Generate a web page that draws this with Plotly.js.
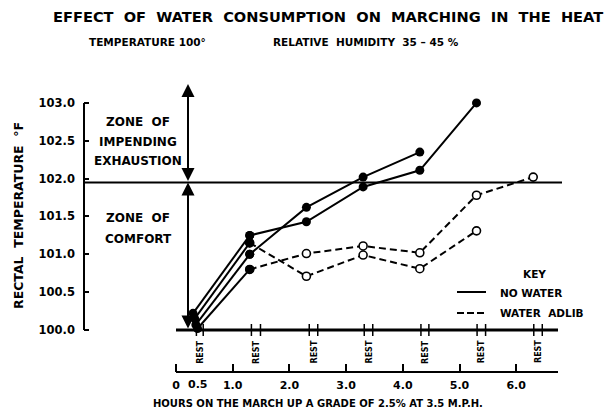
<!DOCTYPE html>
<html><head><meta charset="utf-8">
<script src="https://cdn.plot.ly/plotly-3.0.1.min.js"></script>
<style>html,body{margin:0;padding:0;background:#fff}#chart{width:607px;height:415px}</style>
</head><body><div id="chart"></div>
<script>
// ---- data (hours on march, rectal temperature °F) ----
const noWater1Hours = [0.35, 1.3, 2.3, 3.3, 4.3];
const noWater1Temp  = [100.07, 101.00, 101.62, 102.02, 102.35];
const noWater2Hours = [0.30, 1.3, 2.3, 3.3, 4.3, 5.3];
const noWater2Temp  = [100.22, 101.25, 101.43, 101.89, 102.11, 103.00];
const water1Hours = [0.33, 1.3, 2.3, 3.3, 4.3, 5.3];
const water1Temp  = [100.15, 101.15, 100.71, 100.99, 100.81, 101.31];
const water2Hours = [0.38, 1.3, 2.3, 3.3, 4.3, 5.3, 6.3];
const water2Temp  = [100.02, 100.80, 101.01, 101.11, 101.02, 101.78, 102.02];
const restStart = [0.36, 1.33, 2.35, 3.32, 4.32, 5.31, 6.31];
const restEnd   = [0.48, 1.49, 2.50, 3.47, 4.46, 5.46, 6.46];
const yTicks = [100.0, 100.5, 101.0, 101.5, 102.0, 102.5, 103.0];
const xTicks = [0, 1, 2, 3, 4, 5, 6];
const xTickText = ['0', '1.0', '2.0', '3.0', '4.0', '5.0', '6.0'];
const exhaustionLimit = 101.95;

// ---- layout helpers ----
const W = 607, H = 415, ML = 84, MR = 17, MT = 80, MB = 43;
const PXH = 56.7, X0 = 176;      // px per hour, px of hour 0
const PXD = 75.7, Y0 = 330;      // px per degree, px of 100.0
const hx = px => (px - X0) / PXH;
const vy = py => 100 + (Y0 - py) / PXD;
const pxX = px => (px - ML) / (W - ML - MR);
const pxY = py => (H - MB - py) / (H - MT - MB);
const F = 'DejaVu Sans, Arial, sans-serif';
const font = (s) => ({family: F, size: s, color: '#000', weight: 'bold'});

const series = [
  {h: noWater1Hours, t: noWater1Temp, water: false},
  {h: noWater2Hours, t: noWater2Temp, water: false},
  {h: water1Hours, t: water1Temp, water: true},
  {h: water2Hours, t: water2Temp, water: true},
];
const traces = [];
series.forEach(s => {
  traces.push({
    x: s.h.slice(1), y: s.t.slice(1), type: 'scatter', mode: 'lines+markers',
    line: {color: '#000', width: 2, dash: s.water ? '7px,4px' : 'solid'},
    marker: s.water ? {size: 8, color: '#fff', line: {color: '#000', width: 1.6}}
                    : {size: 9, color: '#000'},
    hoverinfo: 'skip'
  });
});
series.forEach(s => {
  traces.push({
    x: s.h.slice(0, 2), y: s.t.slice(0, 2), type: 'scatter', mode: 'lines+markers',
    line: {color: '#000', width: 2}, marker: {size: 9, color: '#000'}, hoverinfo: 'skip'
  });
});

const shapes = [
  {type: 'line', xref: 'paper', yref: 'y', x0: 0, x1: 0, y0: 100, y1: 103, line: {color: '#000', width: 2}},
  {type: 'line', xref: 'paper', yref: 'y', x0: 0, x1: pxX(562), y0: exhaustionLimit, y1: exhaustionLimit, line: {color: '#000', width: 2}},
  {type: 'line', xref: 'x', yref: 'y', x0: 0, x1: hx(558), y0: 100, y1: 100, line: {color: '#000', width: 3}},
  {type: 'line', xref: 'x', yref: 'paper', x0: 0, x1: hx(558), y0: 0, y1: 0, line: {color: '#000', width: 2}},
  // key samples
  {type: 'line', xref: 'paper', yref: 'paper', x0: pxX(457), x1: pxX(486), y0: pxY(292), y1: pxY(292), line: {color: '#000', width: 2}},
  {type: 'line', xref: 'paper', yref: 'paper', x0: pxX(457), x1: pxX(486), y0: pxY(313), y1: pxY(313), line: {color: '#000', width: 2, dash: '7px,3px'}},
];
restStart.forEach((r, i) => {
  [r, restEnd[i]].forEach(v => shapes.push({type: 'line', xref: 'x', yref: 'y', x0: v, x1: v,
    y0: vy(336), y1: vy(324), line: {color: '#000', width: 1.5}}));
});

const ann = [];
const txt = (x, y, text, size, extra) => ann.push(Object.assign({xref: 'paper', yref: 'paper',
  x: pxX(x), y: pxY(y), text, showarrow: false, font: font(size), xanchor: 'center', yanchor: 'middle'}, extra || {}));
txt(328, 17, 'EFFECT  OF  WATER  CONSUMPTION  ON  MARCHING  IN  THE  HEAT'.replace(/ /g, '\u00a0'), 14.6);
txt(147, 42, 'TEMPERATURE 100°', 10.5);
txt(366, 42, 'RELATIVE  HUMIDITY  35 – 45 %'.replace(/ /g, '\u00a0'), 10.5);
txt(18, 216, 'RECTAL  TEMPERATURE  °F'.replace(/ /g, '\u00a0'), 12.5, {textangle: -90});
txt(318, 403, 'HOURS ON THE MARCH UP A GRADE OF 2.5% AT 3.5 M.P.H.', 10);
// zone labels
[['ZONE  OF', 122], ['IMPENDING', 142], ['EXHAUSTION', 161], ['ZONE  OF', 218], ['COMFORT', 239]]
  .forEach(([t, y]) => txt(138, y, t.replace(/ /g, '\u00a0'), 12));
// key
txt(534, 274, 'KEY', 10.5);
txt(498, 293, 'NO WATER', 10.5, {xanchor: 'left'});
txt(498, 313, 'WATER  ADLIB'.replace(/ /g, '\u00a0'), 10.5, {xanchor: 'left'});
// 0.5 tick label
txt(197.5, 384, '0.5', 11);
// REST labels
restStart.forEach((r, i) => ann.push({xref: 'x', yref: 'y', x: (r + restEnd[i]) / 2, y: vy(352),
  text: 'REST', textangle: -90, showarrow: false, font: font(8), xanchor: 'center', yanchor: 'middle'}));
// double arrows for zones
const arrowX = hx(188);
ann.push({xref: 'x', yref: 'y', axref: 'x', ayref: 'y', x: arrowX, y: vy(84), ax: arrowX, ay: exhaustionLimit,
  text: '', showarrow: true, arrowside: 'end+start', arrowhead: 2, arrowsize: 1.3, arrowwidth: 2, arrowcolor: '#000', standoff: 0, startstandoff: 0});
ann.push({xref: 'x', yref: 'y', axref: 'x', ayref: 'y', x: arrowX, y: exhaustionLimit, ax: arrowX, ay: 100,
  text: '', showarrow: true, arrowside: 'end+start', arrowhead: 2, arrowsize: 1.3, arrowwidth: 2, arrowcolor: '#000', standoff: 0, startstandoff: 0});

const layout = {
  width: W, height: H, margin: {l: ML, r: MR, t: MT, b: MB, pad: 0},
  paper_bgcolor: '#fff', plot_bgcolor: '#fff', showlegend: false, hovermode: false,
  xaxis: {range: [hx(ML), hx(W - MR)], tickvals: xTicks, ticktext: xTickText, ticks: 'inside', ticklen: 8,
    tickwidth: 2, tickcolor: '#000', showline: false, showgrid: false, zeroline: false,
    tickfont: font(11), ticklabelstandoff: 5},
  yaxis: {range: [vy(H - MB), vy(MT)], tickvals: yTicks, ticktext: yTicks.map(v => v.toFixed(1)),
    ticks: 'inside', ticklen: 5, tickwidth: 2, tickcolor: '#000', showline: false, showgrid: false,
    zeroline: false, tickfont: font(11.5), ticklabelstandoff: 8},
  shapes, annotations: ann
};
Plotly.newPlot('chart', traces, layout, {staticPlot: true, displayModeBar: false});
</script></body></html>
